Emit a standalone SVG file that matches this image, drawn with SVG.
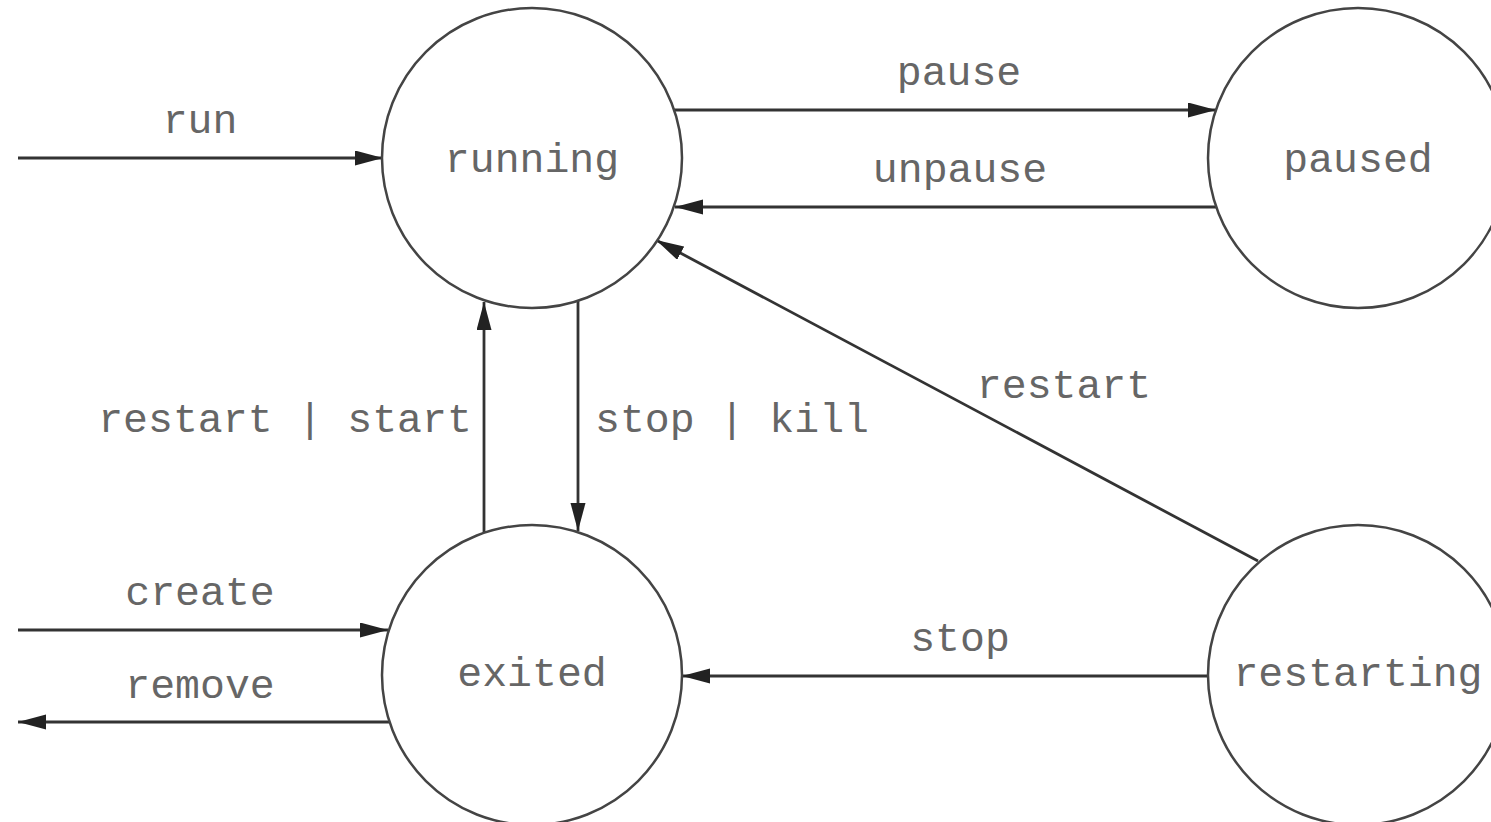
<svg xmlns="http://www.w3.org/2000/svg" width="1491" height="822" viewBox="0 0 1491 822">
<style>
.node{fill:#fff;stroke:#444;stroke-width:2.5}
.lbl{font-family:"Liberation Mono","Courier New",monospace;font-size:41.5px;fill:#666;text-anchor:middle}
.edge{stroke:#333;stroke-width:2.8;fill:none;marker-end:url(#arr)}
</style>
<defs>
<marker id="arr" markerUnits="userSpaceOnUse" markerWidth="30" markerHeight="16" refX="28" refY="7.5" orient="auto">
<path d="M0,0 L28,7.5 L0,15 z" fill="#222"/>
</marker>
</defs>
<rect width="1491" height="822" fill="#fff"/>
<g id="connectors">
<line class="edge" x1="18" y1="158" x2="383" y2="158"/>
<line class="edge" x1="674" y1="110" x2="1216" y2="110"/>
<line class="edge" x1="1216" y1="207" x2="675" y2="207"/>
<line class="edge" x1="484" y1="533" x2="484" y2="302"/>
<line class="edge" x1="578" y1="300" x2="578" y2="531"/>
<line class="edge" x1="1258" y1="561" x2="656" y2="240"/>
<line class="edge" x1="1208" y1="676" x2="682" y2="676"/>
<line class="edge" x1="18" y1="630" x2="388" y2="630"/>
<line class="edge" x1="390" y1="722" x2="18" y2="722"/>
<text class="lbl" x="200" y="133">run</text>
<text class="lbl" x="959" y="85">pause</text>
<text class="lbl" x="960" y="182">unpause</text>
<text class="lbl" x="285" y="432">restart | start</text>
<text class="lbl" x="732" y="432">stop | kill</text>
<text class="lbl" x="1064" y="398">restart</text>
<text class="lbl" x="960" y="651">stop</text>
<text class="lbl" x="200" y="605">create</text>
<text class="lbl" x="200" y="698">remove</text>
</g>
<g id="running">
<circle class="node" cx="532" cy="158" r="150"/>
<text class="lbl" x="532" y="172">running</text>
</g>
<g id="paused">
<circle class="node" cx="1358" cy="158" r="150"/>
<text class="lbl" x="1358" y="172">paused</text>
</g>
<g id="exited">
<circle class="node" cx="532" cy="675" r="150"/>
<text class="lbl" x="532" y="686">exited</text>
</g>
<g id="restarting">
<circle class="node" cx="1358" cy="675" r="150"/>
<text class="lbl" x="1358" y="686">restarting</text>
</g>
</svg>
